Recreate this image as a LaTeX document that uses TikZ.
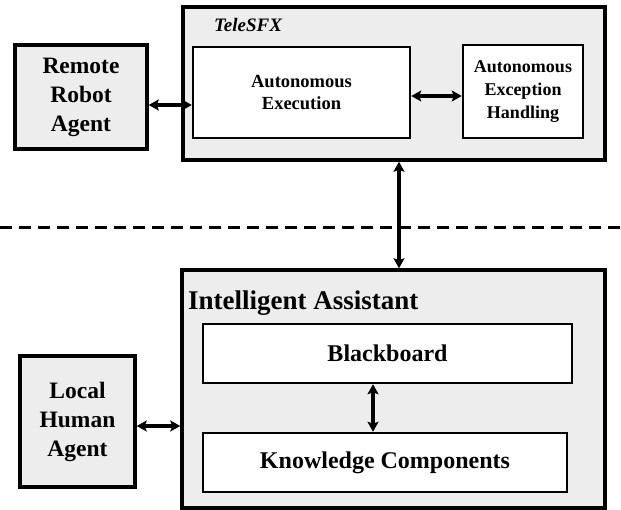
\documentclass[tikz,border=0pt]{standalone}
\usepackage{fontspec}
\setmainfont{Liberation Serif}
\usetikzlibrary{arrows.meta}
\begin{document}
\begin{tikzpicture}[x=1pt,y=-1pt,
  outerbox/.style={draw, line width=3.5pt, fill=black!7, inner sep=0pt, rectangle},
  innerbox/.style={draw, line width=2.5pt, fill=white, inner sep=0pt, rectangle},
  agentbox/.style={draw, line width=3.5pt, fill=black!7, inner sep=0pt, rectangle, align=center,
     font=\fontsize{23.5}{29}\selectfont\bfseries},
  arr/.style={line width=3.5pt, {Stealth[length=10pt,width=11pt,inset=2pt]}-{Stealth[length=10pt,width=11pt,inset=2pt]}},
  sepline/.style={line width=3pt, dash pattern=on 12pt off 7pt}
]
\useasboundingbox (0,0) rectangle (621,510);
% top
\node[outerbox, minimum width=422pt, minimum height=153pt] (tele) at (394,83.5) {};
\node[font=\fontsize{19}{22}\selectfont\bfseries\itshape] (lbltele) at (248,25) {TeleSFX};
\node[innerbox, minimum width=217pt, minimum height=91pt, align=center,
      font=\fontsize{18.5}{22}\selectfont\bfseries] (exec) at (301.5,92.5) {Autonomous\\Execution};
\node[innerbox, minimum width=120pt, minimum height=93pt, align=center,
      font=\fontsize{18}{23}\selectfont\bfseries] (exc) at (523,91.5) {Autonomous\\Exception\\Handling};
\node[agentbox, minimum width=132pt, minimum height=104pt] (remote) at (81,97) {Remote\\Robot\\Agent};
% separator
\coordinate (dl) at (0,228);
\coordinate (dr) at (621,228);
\draw[sepline] (dl) -- (dr);
% bottom
\node[outerbox, minimum width=423pt, minimum height=238pt] (ia) at (393.5,389) {};
\node[anchor=base west, inner sep=0pt, font=\fontsize{27}{30}\selectfont\bfseries] (lblia) at (188,310) {Intelligent Assistant};
\node[innerbox, minimum width=369pt, minimum height=59pt,
      font=\fontsize{24}{28}\selectfont\bfseries] (bb) at (387.5,353.5) {Blackboard};
\node[innerbox, minimum width=364pt, minimum height=59pt,
      font=\fontsize{24}{28}\selectfont\bfseries] (kc) at (385,462.5) {Knowledge Components};
\node[agentbox, minimum width=115pt, minimum height=131pt] (local) at (77.5,421.5) {Local\\Human\\Agent};
% connectors
\draw[arr] ([yshift=-8pt]remote.east) -- ([yshift=-8pt]remote.east -| exec.west);
\draw[arr] ([yshift=-3.5pt]exec.east) -- ([yshift=-3.5pt]exec.east -| exc.west);
\draw[arr] ([xshift=5pt]tele.south) -- ([xshift=5pt]tele.south |- ia.north);
\draw[arr] ([xshift=-14.5pt]bb.south) -- ([xshift=-14.5pt]bb.south |- kc.north);
\draw[arr] ([yshift=-4.5pt]local.east) -- ([yshift=-4.5pt]local.east -| ia.west);
\end{tikzpicture}
\end{document}
